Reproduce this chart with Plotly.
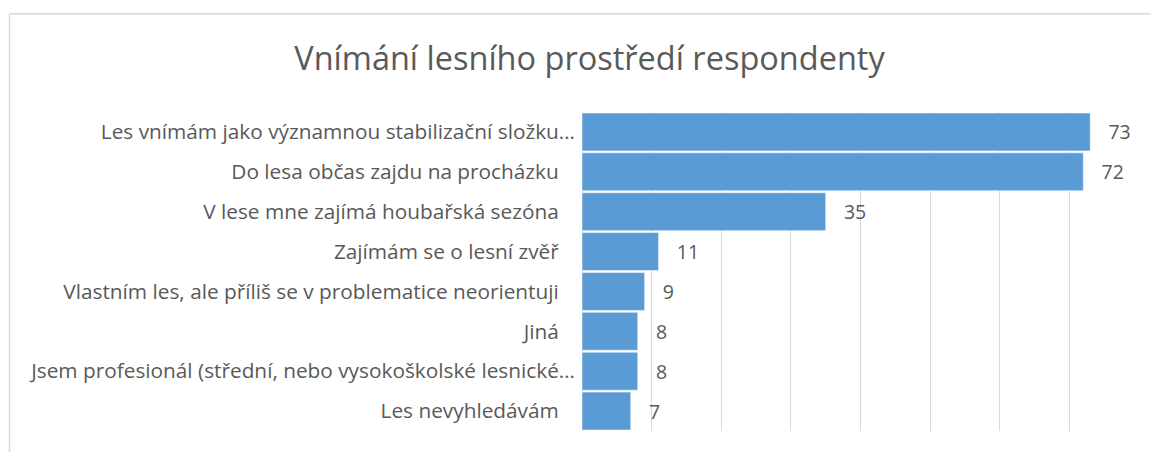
import plotly.graph_objects as go

categories = [
    "Les vnímám jako významnou stabilizační složku…",
    "Do lesa občas zajdu na procházku",
    "V lese mne zajímá houbařská sezóna",
    "Zajímám se o lesní zvěř",
    "Vlastním les, ale příliš se v problematice neorientuji",
    "Jiná",
    "Jsem profesionál (střední, nebo vysokoškolské lesnické…",
    "Les nevyhledávám",
]
values = [73, 72, 35, 11, 9, 8, 8, 7]
title_text = "Vnímání lesního prostředí respondenty"

# the page body adds an 8px offset; work in figure coordinates
OFF = 8
W, H = 1159 - OFF, 452 - OFF
L, R, T, B = 573.5, 19.5, 103.5, 21
pw, ph = W - L - R, H - T - B

def px2x(px):
    return (px - L) / pw

def py2y(py):
    return (H - B - py) / ph

FONT = "'Open Sans', 'Noto Sans', sans-serif"
GREY = "#595959"

# non-truncated labels sit a little further from the axis (as in the source)
tick_text = [c if c.endswith("…") else c + "\u00a0\u00a0\u00a0" for c in categories]

fig = go.Figure(
    go.Bar(
        x=values,
        y=categories,
        orientation="h",
        marker=dict(color="#5B9BD5", line=dict(color="#FFFFFF", width=0.5)),
        text=values,
        texttemplate="   %{x}",
        textposition="outside",
        cliponaxis=False,
        textfont=dict(family=FONT, size=19.5, color=GREY),
        hoverinfo="skip",
    )
)

fig.update_layout(
    width=W,
    height=H,
    margin=dict(l=L, r=R, t=T, b=B),
    paper_bgcolor="white",
    plot_bgcolor="white",
    bargap=0.05,
    showlegend=False,
    font=dict(family=FONT, color=GREY),
    title=dict(
        text=title_text,
        xref="container",
        yref="container",
        x=581.5 / W,
        y=1 - 51 / H,
        xanchor="center",
        yanchor="middle",
        font=dict(family=FONT, size=32.5, color=GREY),
    ),
    xaxis=dict(
        range=[0, 80],
        dtick=10,
        showticklabels=False,
        showgrid=True,
        gridcolor="#D9D9D9",
        gridwidth=1.2,
        zeroline=True,
        zerolinecolor="#D9D9D9",
        zerolinewidth=1.2,
        showline=False,
        fixedrange=True,
    ),
    yaxis=dict(
        autorange="reversed",
        tickmode="array",
        tickvals=categories,
        ticktext=tick_text,
        showgrid=False,
        zeroline=False,
        showline=False,
        ticks="",
        ticklabelstandoff=6,
        tickfont=dict(family=FONT, size=20.8, color=GREY),
        fixedrange=True,
    ),
    shapes=[
        dict(type="line", xref="paper", yref="paper",
             x0=px2x(0), x1=px2x(W + 5), y0=py2y(5), y1=py2y(5),
             line=dict(color="#D9D9D9", width=1.5)),
        dict(type="line", xref="paper", yref="paper",
             x0=px2x(0), x1=px2x(0), y0=py2y(5), y1=py2y(H + 5),
             line=dict(color="#D9D9D9", width=1.5)),
    ],
)

fig.write_html("out.html")
